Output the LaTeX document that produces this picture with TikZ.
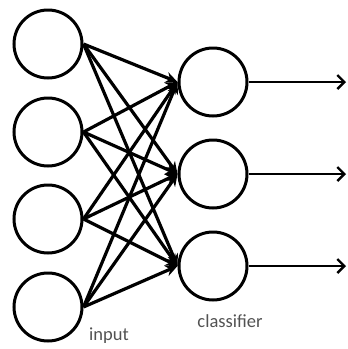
\documentclass[tikz,border=0pt]{standalone}
\usepackage{fontspec}
\setmainfont{Carlito}
\usetikzlibrary{arrows.meta}
\begin{document}
\begin{tikzpicture}[x=1pt,y=-1pt,
  neuron/.style={circle,draw=black,line width=3pt,minimum size=68pt,inner sep=0pt,fill=white},
  link/.style={line width=3.2pt,-{Stealth[length=12pt,width=11pt]}},
  outlink/.style={line width=2.4pt,-{Straight Barb[length=7pt,width=14pt]}},
  caption/.style={text=black!68,font=\fontsize{18.5}{20}\selectfont}]
\useasboundingbox (0,0) rectangle (348,349);
% input layer
\node[neuron] (i1) at (48,44) {};
\node[neuron] (i2) at (48,132) {};
\node[neuron] (i3) at (48,219) {};
\node[neuron] (i4) at (48,307) {};
% classifier layer
\node[neuron] (c1) at (213,82) {};
\node[neuron] (c2) at (213,174) {};
\node[neuron] (c3) at (213,266) {};
% outputs
\coordinate (o1) at (346,82);
\coordinate (o2) at (346,174);
\coordinate (o3) at (346,266);
% full connections
\foreach \i in {1,2,3,4}
  \foreach \c in {1,2,3}
    \draw[link] (i\i.east) -- (c\c.west);
\foreach \c in {1,2,3}
  \draw[outlink] (c\c.east) -- (o\c);
% labels
\node[caption] (lin) at (109,336) {input};
\node[caption] (lcl) at (230,321) {classifier};
\end{tikzpicture}
\end{document}
